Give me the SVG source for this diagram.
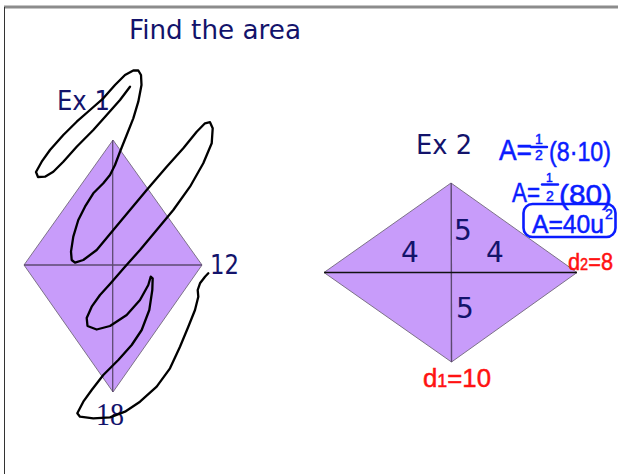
<svg xmlns="http://www.w3.org/2000/svg" width="618" height="474" viewBox="0 0 618 474">
<style>
.lbl{font-family:"DejaVu Sans","Verdana",sans-serif;fill:#13136b}
.dia{fill:#c89cfa;stroke:#7d7288;stroke-width:1}
.diag{stroke:#5c4a70;stroke-width:1.3;fill:none}
.hb{font-family:"Liberation Sans",Arial,sans-serif;fill:#0a1cff;stroke:#0a1cff;stroke-width:0.5}
.hr{font-family:"Liberation Sans",Arial,sans-serif;fill:#ff1212;stroke:#ff1212;stroke-width:0.5}
.ink{fill:none;stroke:#000;stroke-width:2.3;stroke-linejoin:round;stroke-linecap:round}
.bar{stroke:#0a1cff;stroke-width:2.4;stroke-linecap:round}
</style>
<rect x="0" y="0" width="618" height="474" fill="#fff"/>
<g id="frame">
<rect x="4" y="5.5" width="614" height="3" fill="#8c8c8c"/>
<line x1="4.5" y1="7" x2="4.5" y2="474" stroke="#333" stroke-width="1"/>
</g>
<g id="title">
<text class="lbl" x="129" y="39" font-size="27" textLength="172" lengthAdjust="spacingAndGlyphs">Find the area</text>
</g>
<g id="diamond1">
<polygon class="dia" points="113,140 202,265 113,392 24,265"/>
<line class="diag" x1="112.7" y1="140" x2="112.7" y2="392"/>
<line class="diag" x1="24" y1="265" x2="202" y2="265"/>
<text class="lbl" x="57" y="110" font-size="27" textLength="53" lengthAdjust="spacingAndGlyphs">Ex 1</text>
<text class="lbl" x="210" y="274" font-size="27" textLength="29" lengthAdjust="spacingAndGlyphs">12</text>
<text x="96" y="425" font-size="32" textLength="28" lengthAdjust="spacingAndGlyphs" font-family="Liberation Serif, serif" fill="#13136b">18</text>
</g>
<g id="connectors">
<polyline class="ink" points="130,86.7 120,100 106.7,115 93.3,130 76.7,146.7 63.3,161.7 53.3,171.7 45,176.7 38,177 36,172 41.7,161.7 50,150 63.3,135 76.7,121.7 90,110 103.3,98.3 115,85 125,75 133.3,70.5 138.3,70.5 141,75 141.5,85 138.3,101.7 133.3,118.3 126.7,135 120,151.7 115,165 110,175 103.3,183.3 93.3,193.3 85,206.7 78.3,220 73.3,236.7 71,251.7 71.7,260 75,262.7 83.3,260 96.7,250 113.3,230 130,210 146.7,190 166.7,166.7 183.3,148.3 196.7,131.7 205,123.3 210,122.2 212.7,128.3 211.7,143.3 203.3,163.3 190,186.7 173.3,210 156.7,230 140,250 125,266.7 115,278.3 110,284 100,295 91.7,306.7 86.7,318 87.5,326 96.7,329.5 110,326 126.7,315 140,300 148.3,285 150.7,276.7 152.7,278.3 152.3,290 149.3,310 141.7,330 131.7,345 118.3,360 103.3,375 91.7,390 83.3,401.7 77.3,413.3 80,416.7 93.3,418.3 110,417.3 125,411.7 140,401.7 156.7,386.7 170,368.3 180,346.7 188.3,326.7 195,310 198.3,296.7 197.7,290 200,283.3 205,276.7 208.3,273.3"/>
</g>
<g id="diamond2">
<polygon class="dia" points="451,183 577,272.5 451.5,362 324,272.5"/>
<line x1="451.2" y1="183" x2="451.5" y2="362" stroke="#5c4a70" stroke-width="1.4"/>
<line x1="324" y1="272.5" x2="577" y2="272.5" stroke="#111" stroke-width="1.3"/>
<text class="lbl" x="416" y="153.5" font-size="27" textLength="56" lengthAdjust="spacingAndGlyphs">Ex 2</text>
<text class="lbl" x="401" y="262" font-size="28">4</text>
<text class="lbl" x="454" y="240" font-size="28">5</text>
<text class="lbl" x="486" y="262" font-size="28">4</text>
<text class="lbl" x="456" y="318" font-size="28">5</text>
</g>
<g id="labels">
<text class="hr" x="423" y="387" font-size="26" textLength="68" lengthAdjust="spacingAndGlyphs">d<tspan font-size="18">1</tspan>=10</text>
<text class="hr" x="568" y="270" font-size="24" textLength="45" lengthAdjust="spacingAndGlyphs">d<tspan font-size="16">2</tspan>=8</text>
</g>
<g id="formulas">
<text class="hb" x="499" y="160" font-size="30" textLength="33" lengthAdjust="spacingAndGlyphs">A=</text>
<text class="hb" x="535" y="143.5" font-size="14">1</text>
<line class="bar" x1="531" y1="147" x2="547" y2="147"/>
<text class="hb" x="535" y="160" font-size="14">2</text>
<text class="hb" x="549" y="161" font-size="27" textLength="62" lengthAdjust="spacingAndGlyphs">(8·10)</text>
<text class="hb" x="512" y="202" font-size="27" textLength="28" lengthAdjust="spacingAndGlyphs">A=</text>
<text class="hb" x="546" y="182" font-size="12">1</text>
<line class="bar" x1="542" y1="184.5" x2="558" y2="184.5"/>
<text class="hb" x="546" y="201" font-size="14">2</text>
<text class="hb" x="559" y="204" font-size="28" textLength="53" lengthAdjust="spacingAndGlyphs">(80)</text>
<rect x="523.5" y="204" width="92" height="33" rx="9" fill="none" stroke="#0a1cff" stroke-width="2.6"/>
<text class="hb" x="532" y="233" font-size="25" textLength="72" lengthAdjust="spacingAndGlyphs">A=40u</text>
<text class="hb" x="605" y="219" font-size="14">2</text>
</g>
</svg>
